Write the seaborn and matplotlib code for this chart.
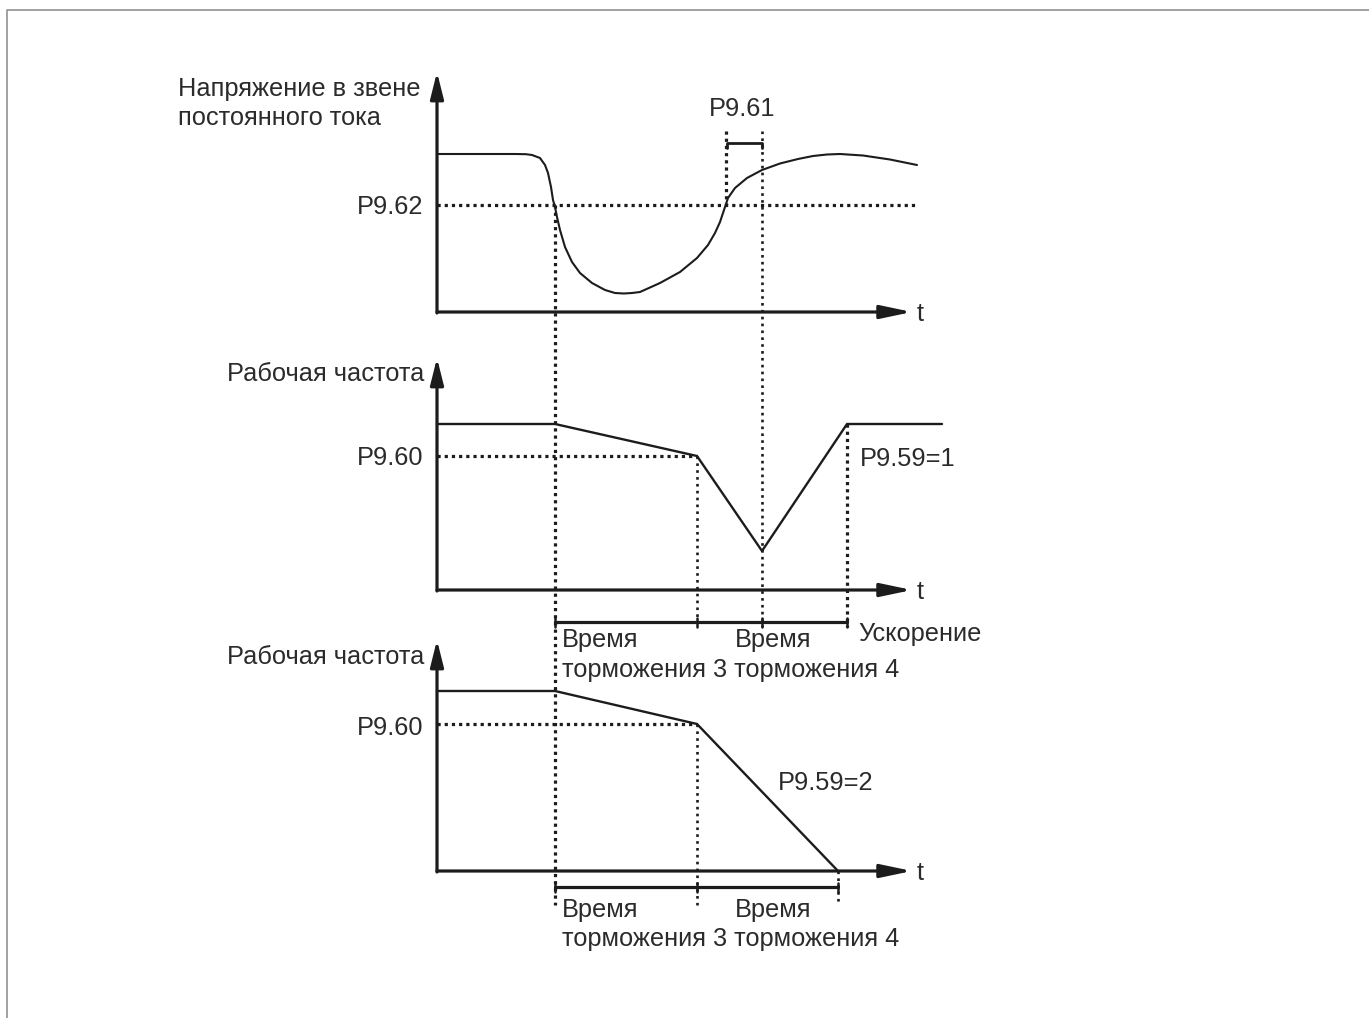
import matplotlib
matplotlib.use("Agg")
import matplotlib.pyplot as plt
import seaborn as sns
import pandas as pd

# ---------------- data (time units, value units) ----------------
# DC-bus voltage curve (panel 1)
volt_t = [0.0, 7.8, 8.9, 9.5, 10.3, 10.8, 11.1, 11.4, 11.6, 11.8, 12.0, 12.3, 12.8, 13.5,
          14.3, 15.5, 16.8, 17.8, 18.7, 19.5, 20.3, 22.3, 24.3, 26.0, 27.1, 27.8,
          28.3, 28.8, 29.1, 29.8, 31.0, 32.5, 34.3, 36.1, 37.6, 39.0, 40.3, 42.6, 45.3, 48.0]
volt_v = [15.8, 15.8, 15.78, 15.7, 15.4, 14.7, 13.9, 12.5, 11.2, 10.5, 9.5, 8.2, 6.5, 5.0,
          3.9, 2.9, 2.2, 1.9, 1.85, 1.9, 2.0, 2.9, 4.0, 5.4, 6.7, 7.9,
          9.0, 10.5, 11.4, 12.4, 13.4, 14.2, 14.85, 15.3, 15.6, 15.75, 15.8, 15.65, 15.25, 14.7]
p962_level = 10.7

# operating frequency, P9.59 = 1 (panel 2)
freq1_t = [0.0, 11.8, 26.0, 32.5, 41.0, 50.5]
freq1_v = [16.6, 16.6, 13.4, 3.9, 16.6, 16.6]
p960_level_1 = 13.4

# operating frequency, P9.59 = 2 (panel 3)
freq2_t = [0.0, 11.8, 26.0, 40.1]
freq2_v = [18.0, 18.0, 14.7, 0.0]
p960_level_2 = 14.7

# characteristic instants
t_trip = 11.8        # voltage falls below P9.62
t_recover = 28.9     # voltage back above P9.62
t_p961_end = 32.5    # end of P9.61 delay
t_dec3_end = 26.0
t_acc_end = 41.0
t_stop = 40.1
t_axis_end = 47.5

title_volt_1 = "Напряжение в звене"
title_volt_2 = "постоянного тока"
title_freq = "Рабочая частота"
lbl_p962, lbl_p961, lbl_p960 = "P9.62", "P9.61", "P9.60"
lbl_mode1, lbl_mode2 = "P9.59=1", "P9.59=2"
lbl_time, lbl_dec3_4 = "Время", "торможения 3 торможения 4"
lbl_acc = "Ускорение"

# ---------------- layout ----------------
W, H = 1369, 1018
sns.set_theme(style="white")
plt.rcParams["font.family"] = ["Liberation Sans", "DejaVu Sans"]

fig = plt.figure(figsize=(W / 100, H / 100), dpi=100)
ax = fig.add_axes([0, 0, 1, 1])
ax.set_xlim(-43.7, (W - 437) / 10)
ax.set_ylim(0, H / 10)
ax.axis("off")

def P(px, py):
    return (px - 437) / 10, (H - py) / 10

base1, base2, base3 = P(0, 312)[1], P(0, 590)[1], P(0, 871)[1]
top1, top2, top3 = P(0, 72)[1], P(0, 358)[1], P(0, 640)[1]

LC = "#1c1c1c"
TC = "#2b2b2b"
FS = 18.3
AX_LW = 2.3
CV_LW = 1.5
DOT = dict(color=LC, lw=2.3, linestyle=(0, (1.0, 1.25)), dash_capstyle="butt")
DOT_THIN = dict(color=LC, lw=1.9, linestyle=(0, (1.0, 1.6)), dash_capstyle="butt")

# frame
fx0, fy0 = P(7, 10)
ax.plot([fx0, fx0, P(W, 0)[0]], [0, fy0, fy0], color="#9a9a9a", lw=1.3)

def axes_arrows(base, top):
    ax.annotate("", xy=(t_axis_end, base), xytext=(0, base),
                arrowprops=dict(arrowstyle="-|>,head_length=0.95,head_width=0.2",
                                mutation_scale=20, lw=AX_LW, color=LC,
                                shrinkA=0, shrinkB=0))
    ax.annotate("", xy=(0, top), xytext=(0, base - 0.1),
                arrowprops=dict(arrowstyle="-|>,head_length=0.8,head_width=0.2",
                                mutation_scale=20, lw=AX_LW, color=LC,
                                shrinkA=0, shrinkB=0))
    tx, ty = P(917, 0)
    ax.text(tx, base - 0.2, "t", fontsize=FS, color=TC, ha="left", va="center")

for b, tp in [(base1, top1), (base2, top2), (base3, top3)]:
    axes_arrows(b, tp)

# ---------- panel 1 ----------
df_v = pd.DataFrame({"t": volt_t, "v": [base1 + v for v in volt_v]})
sns.lineplot(data=df_v, x="t", y="v", ax=ax, color=LC, lw=CV_LW, sort=False,
             estimator=None)
ax.plot([0, 48.0], [base1 + p962_level] * 2, **DOT)

# ---------- panel 2 ----------
df_f1 = pd.DataFrame({"t": freq1_t, "f": [base2 + v for v in freq1_v]})
sns.lineplot(data=df_f1, x="t", y="f", ax=ax, color=LC, lw=CV_LW + 0.2, sort=False,
             estimator=None)
ax.plot([0, t_dec3_end], [base2 + p960_level_1] * 2, **DOT)

# ---------- panel 3 ----------
df_f2 = pd.DataFrame({"t": freq2_t, "f": [base3 + v for v in freq2_v]})
sns.lineplot(data=df_f2, x="t", y="f", ax=ax, color=LC, lw=CV_LW + 0.2, sort=False,
             estimator=None)
ax.plot([0, t_dec3_end], [base3 + p960_level_2] * 2, **DOT)

# ---------- vertical guide lines ----------
y_low2 = P(0, 627)[1]
y_low3 = P(0, 905)[1]
y_p961 = P(0, 131)[1]
ax.plot([t_trip, t_trip], [base1 + p962_level, y_low3], **DOT)
ax.plot([t_recover, t_recover], [y_p961, base1 + p962_level], **DOT)
ax.plot([t_p961_end, t_p961_end], [y_p961, y_low2], **DOT_THIN)
ax.plot([t_dec3_end, t_dec3_end], [base2 + p960_level_1, y_low2], **DOT_THIN)
ax.plot([t_acc_end, t_acc_end], [base2 + freq1_v[-1], y_low2], **DOT)
ax.plot([t_dec3_end, t_dec3_end], [base3 + p960_level_2, y_low3], **DOT_THIN)
ax.plot([t_stop, t_stop], [base3, y_low3], **DOT_THIN)

# ---------- brackets ----------
yb = P(0, 143)[1]
ax.plot([t_recover + 0.1, t_recover + 0.1, t_p961_end, t_p961_end],
        [yb - 0.5, yb, yb, yb - 0.5], color=LC, lw=2.0)

yb2 = P(0, 622)[1]
ax.plot([t_trip, t_acc_end], [yb2, yb2], color=LC, lw=2.3)
for tt in (t_trip, t_dec3_end, t_p961_end, t_acc_end):
    ax.plot([tt, tt], [yb2 - 0.5, yb2 + 0.4], color=LC, lw=1.8)

yb3 = P(0, 887)[1]
ax.plot([t_trip, t_stop], [yb3, yb3], color=LC, lw=2.3)
for tt in (t_trip, t_dec3_end, t_stop):
    ax.plot([tt, tt], [yb3 - 0.5, yb3 + 0.4], color=LC, lw=1.8)

# ---------- texts ----------
def txt(px, py, s, ha="left", va="center", **kw):
    x, y = P(px, py + 2)
    ax.text(x, y, s, fontsize=FS, color=TC, ha=ha, va=va, **kw)

txt(178, 87, title_volt_1)
txt(178, 116, title_volt_2)
txt(423, 205, lbl_p962, ha="right")
txt(742, 107, lbl_p961, ha="center")

txt(424, 372, title_freq, ha="right")
txt(423, 456, lbl_p960, ha="right")
txt(860, 457, lbl_mode1)
txt(562, 638, lbl_time)
txt(735, 638, lbl_time)
txt(562, 668, lbl_dec3_4)
txt(858, 632, lbl_acc)

txt(424, 655, title_freq, ha="right")
txt(423, 726, lbl_p960, ha="right")
txt(778, 781, lbl_mode2)
txt(562, 908, lbl_time)
txt(735, 908, lbl_time)
txt(562, 937, lbl_dec3_4)

fig.savefig("out.png", dpi=100, facecolor="white")
